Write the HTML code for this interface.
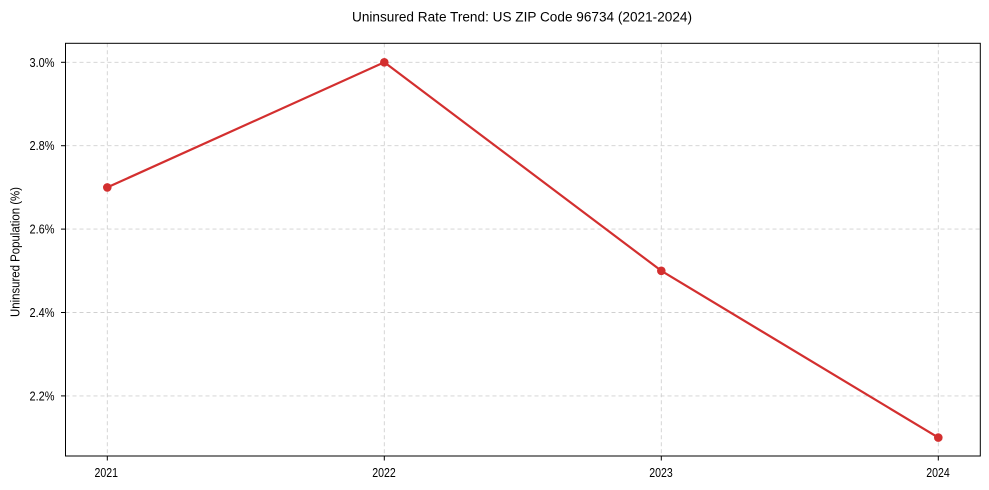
<!DOCTYPE html>
<html>
<head>
<meta charset="utf-8">
<style>
html,body{margin:0;padding:0;background:#fff;}
svg{display:block;}
text{font-family:"Liberation Sans",Arial,sans-serif;fill:#000;}
</style>
</head>
<body>
<svg width="989" height="490" viewBox="0 0 989 490" xmlns="http://www.w3.org/2000/svg">
<rect x="0" y="0" width="989" height="490" fill="#fff"/>
<!-- title -->
<text x="522" y="21.5" font-size="13.5" text-anchor="middle" textLength="340" lengthAdjust="spacingAndGlyphs">Uninsured Rate Trend: US ZIP Code 96734 (2021-2024)</text>
<!-- grid -->
<g stroke="#d0d0d0" stroke-width="0.9" stroke-dasharray="4,3" fill="none">
<line x1="107.3" y1="43.3" x2="107.3" y2="456"/>
<line x1="384.3" y1="43.3" x2="384.3" y2="456"/>
<line x1="661.3" y1="43.3" x2="661.3" y2="456"/>
<line x1="938.3" y1="43.3" x2="938.3" y2="456"/>
<line x1="65.5" y1="62.3" x2="980.3" y2="62.3"/>
<line x1="65.5" y1="145.7" x2="980.3" y2="145.7"/>
<line x1="65.5" y1="229.1" x2="980.3" y2="229.1"/>
<line x1="65.5" y1="312.5" x2="980.3" y2="312.5"/>
<line x1="65.5" y1="395.9" x2="980.3" y2="395.9"/>
</g>
<!-- data line -->
<polyline points="107.3,187.4 384.3,62.3 661.3,270.8 938.3,437.6" fill="none" stroke="#d32f2f" stroke-width="2.2" stroke-linejoin="round"/>
<g fill="#d32f2f">
<circle cx="107.3" cy="187.4" r="4.3"/>
<circle cx="384.3" cy="62.3" r="4.3"/>
<circle cx="661.3" cy="270.8" r="4.3"/>
<circle cx="938.3" cy="437.6" r="4.3"/>
</g>
<!-- axes box -->
<rect x="65.5" y="43.3" width="914.8" height="412.7" fill="none" stroke="#000" stroke-width="1"/>
<!-- ticks -->
<g stroke="#000" stroke-width="1">
<line x1="61" y1="62.3" x2="65.5" y2="62.3"/>
<line x1="61" y1="145.7" x2="65.5" y2="145.7"/>
<line x1="61" y1="229.1" x2="65.5" y2="229.1"/>
<line x1="61" y1="312.5" x2="65.5" y2="312.5"/>
<line x1="61" y1="395.9" x2="65.5" y2="395.9"/>
<line x1="107.3" y1="456" x2="107.3" y2="460.5"/>
<line x1="384.3" y1="456" x2="384.3" y2="460.5"/>
<line x1="661.3" y1="456" x2="661.3" y2="460.5"/>
<line x1="938.3" y1="456" x2="938.3" y2="460.5"/>
</g>
<g font-size="13" text-anchor="end">
<text x="54.5" y="66.8" textLength="25" lengthAdjust="spacingAndGlyphs">3.0%</text>
<text x="54.5" y="150.2" textLength="25" lengthAdjust="spacingAndGlyphs">2.8%</text>
<text x="54.5" y="233.6" textLength="25" lengthAdjust="spacingAndGlyphs">2.6%</text>
<text x="54.5" y="317" textLength="25" lengthAdjust="spacingAndGlyphs">2.4%</text>
<text x="54.5" y="400.4" textLength="25" lengthAdjust="spacingAndGlyphs">2.2%</text>
</g>
<g font-size="13" text-anchor="middle">
<text x="106.3" y="476.8" textLength="23.5" lengthAdjust="spacingAndGlyphs">2021</text>
<text x="384" y="476.8" textLength="23.5" lengthAdjust="spacingAndGlyphs">2022</text>
<text x="661" y="476.8" textLength="23.5" lengthAdjust="spacingAndGlyphs">2023</text>
<text x="938" y="476.8" textLength="23.5" lengthAdjust="spacingAndGlyphs">2024</text>
</g>
<!-- y label -->
<text transform="translate(19.5,252) rotate(-90)" x="0" y="0" font-size="12.5" text-anchor="middle" textLength="130" lengthAdjust="spacingAndGlyphs">Uninsured Population (%)</text>
</svg>
</body>
</html>
